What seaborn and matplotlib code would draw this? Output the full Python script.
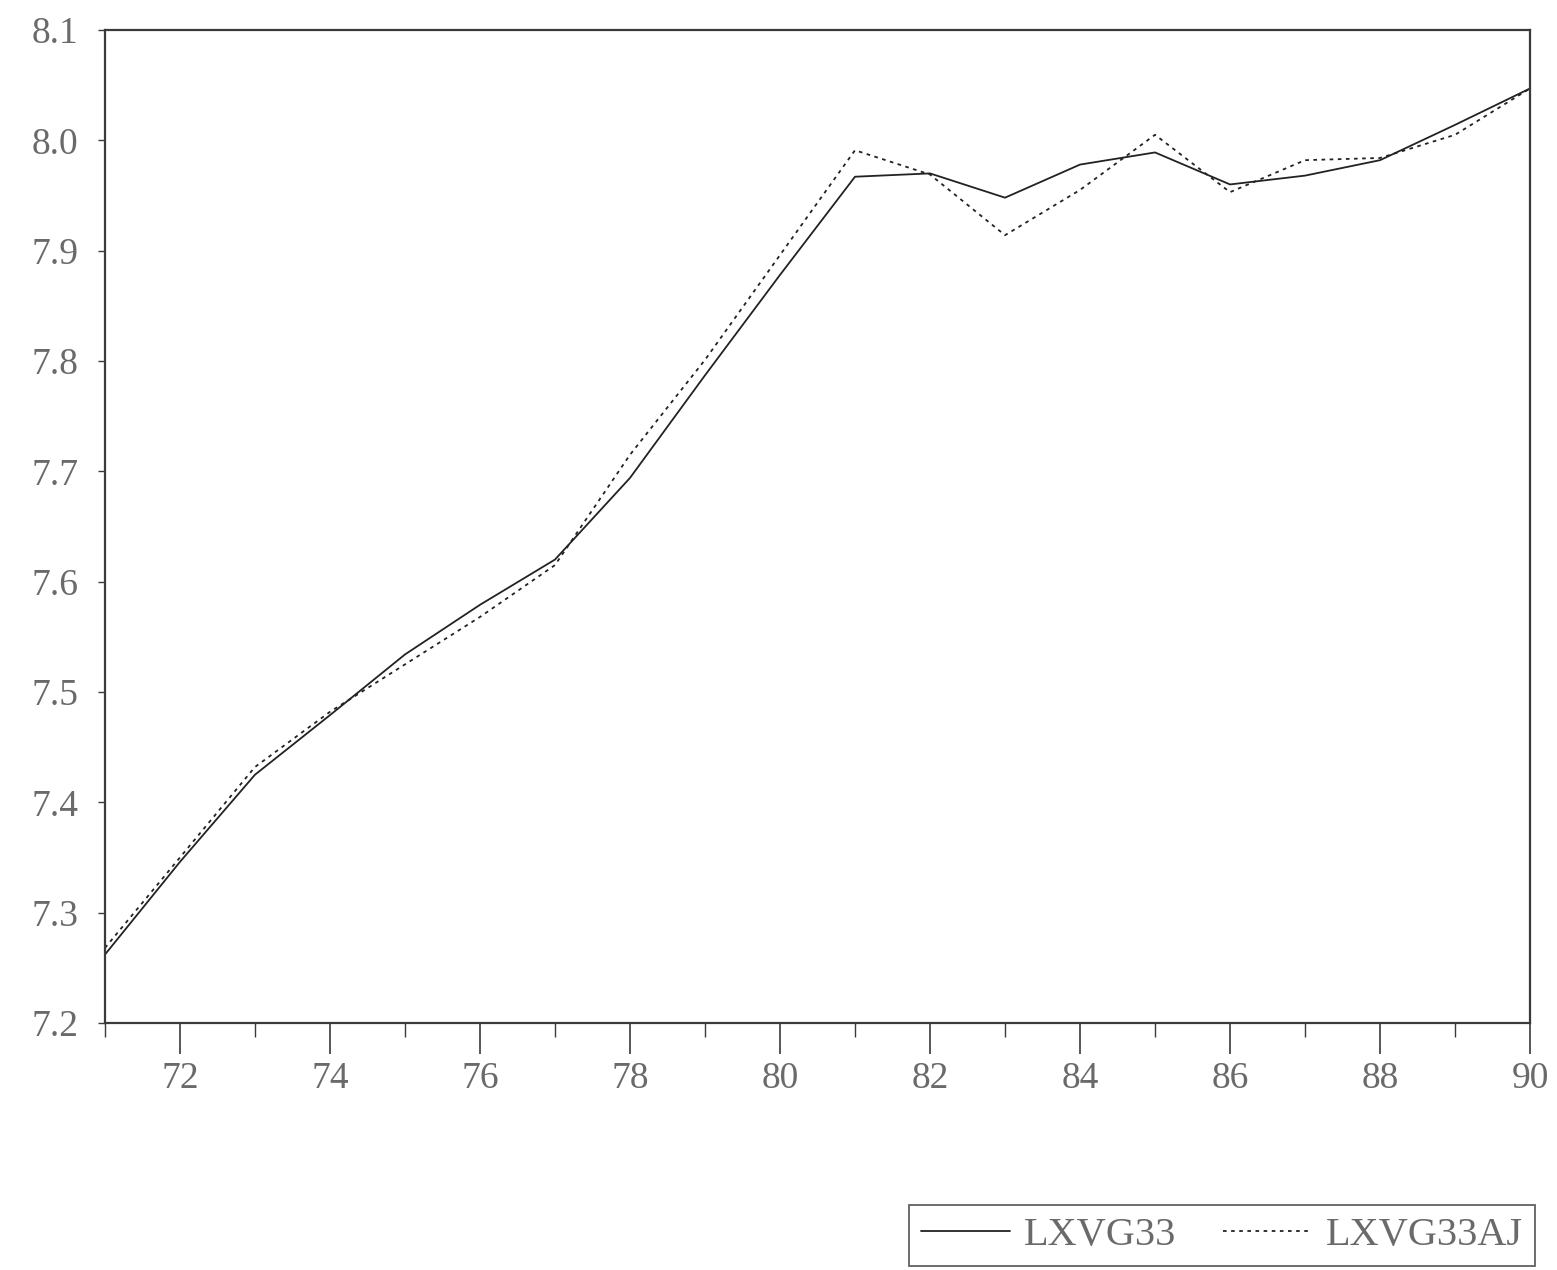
import numpy as np
import pandas as pd
import matplotlib
matplotlib.use("Agg")
import matplotlib.pyplot as plt
from matplotlib.ticker import MultipleLocator, FormatStrFormatter
import seaborn as sns

# annual data, 1971-1990
years = list(range(71, 91))
lxvg33 = [7.262, 7.346, 7.425, 7.479, 7.534, 7.579, 7.620, 7.694, 7.787, 7.878,
          7.967, 7.970, 7.948, 7.978, 7.989, 7.960, 7.968, 7.982, 8.014, 8.047]
lxvg33aj = [7.268, 7.350, 7.432, 7.482, 7.525, 7.568, 7.615, 7.715, 7.801, 7.896,
            7.991, 7.969, 7.914, 7.955, 8.005, 7.953, 7.982, 7.984, 8.005, 8.047]

x_ticks = list(range(72, 91, 2))
y_ticks = [7.2, 7.3, 7.4, 7.5, 7.6, 7.7, 7.8, 7.9, 8.0, 8.1]

INK = "#3a3a3a"
TXT = "#6a6a6a"

sns.set_theme(style="ticks")
plt.rcParams.update({
    "font.family": ["Liberation Serif", "DejaVu Serif"],
    "axes.edgecolor": INK,
    "axes.linewidth": 1.6,
    "xtick.color": INK,
    "ytick.color": INK,
    "xtick.labelcolor": TXT,
    "ytick.labelcolor": TXT,
})

df = pd.DataFrame({"year": years, "LXVG33": lxvg33, "LXVG33AJ": lxvg33aj})

fig = plt.figure(figsize=(15.57, 12.70), dpi=100)
ax = fig.add_axes([0.0674, 0.1945, 0.9153, 0.7819])

sns.lineplot(data=df, x="year", y="LXVG33", ax=ax, color="#222222",
             linewidth=1.3, label="LXVG33")
sns.lineplot(data=df, x="year", y="LXVG33AJ", ax=ax, color="#222222",
             linewidth=1.3, linestyle=(0, (2, 2.5)), label="LXVG33AJ")

ax.set_xlim(71, 90)
ax.set_ylim(7.2, 8.1)
ax.set_xticks(x_ticks)
ax.xaxis.set_minor_locator(MultipleLocator(1))
ax.set_yticks(y_ticks)
ax.yaxis.set_major_formatter(FormatStrFormatter("%.1f"))
ax.tick_params(axis="x", which="major", direction="out", length=22, width=1.2,
               labelsize=27, pad=6)
ax.tick_params(axis="x", which="minor", direction="out", length=10, width=1.0)
ax.tick_params(axis="y", which="major", direction="out", length=5, width=1.0,
               labelsize=27, pad=14)
ax.set_xlabel("")
ax.set_ylabel("")
for s in ax.spines.values():
    s.set_visible(True)

ax.legend_.remove()
handles, labels = ax.get_legend_handles_labels()
leg = fig.legend(handles, labels, loc="upper right", ncol=2,
                 bbox_to_anchor=(0.986, 0.0512), frameon=True, fancybox=False,
                 fontsize=29, handlelength=2.2, handletextpad=0.36,
                 columnspacing=1.15, borderpad=0.3, borderaxespad=0)
leg.get_frame().set_edgecolor(INK)
leg.get_frame().set_linewidth(1.3)
for t in leg.get_texts():
    t.set_color(TXT)

fig.savefig("out.png", dpi=100, facecolor="white")
